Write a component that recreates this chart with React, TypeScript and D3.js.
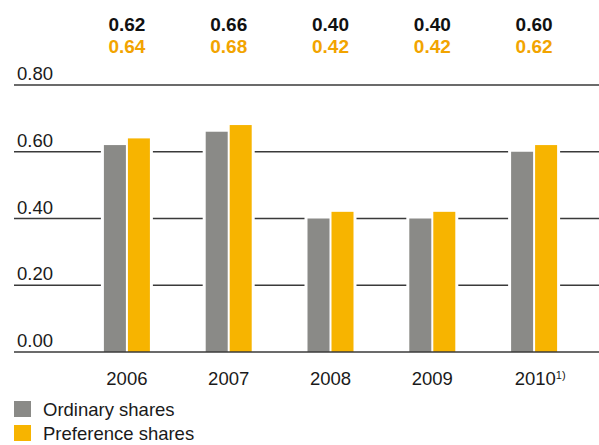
import { useRef, useEffect } from "react";
import * as d3 from "d3";

// chart data
const years = ["2006", "2007", "2008", "2009", "2010"];
const ordinary = [0.62, 0.66, 0.4, 0.4, 0.6];
const preference = [0.64, 0.68, 0.42, 0.42, 0.62];
const seriesNames = ["Ordinary shares", "Preference shares"];
const ticks = [0, 0.2, 0.4, 0.6, 0.8];

const GREY = "#8a8a87";
const YELLOW = "#f7b400";
const ORANGE_TEXT = "#f2a400";
const FONT = "'Liberation Sans', Arial, sans-serif";

const App = () => {
  const svgRef = useRef<SVGSVGElement | null>(null);

  useEffect(() => {
    if (!svgRef.current) return;
    const width = 599;
    const height = 445;

    const svg = d3.select(svgRef.current).attr("width", width).attr("height", height);
    svg.selectAll("*").remove();

    const y = d3.scaleLinear().domain([0, 0.8]).range([352, 85]);
    const x0 = d3.scaleBand<string>().domain(years).range([76, 585]);
    const x1 = d3
      .scaleBand<string>()
      .domain(seriesNames)
      .range([-23, 23])
      .paddingInner(1 / 12);

    const rows = years.map((yr, i) => ({ year: yr, values: [ordinary[i], preference[i]] }));
    const colors = [GREY, YELLOW];

    // gridlines (not the baseline)
    svg
      .append("g")
      .selectAll("line")
      .data(ticks.filter((t) => t > 0))
      .enter()
      .append("line")
      .attr("x1", 14)
      .attr("x2", width)
      .attr("y1", (d) => y(d))
      .attr("y2", (d) => y(d))
      .attr("stroke", "#3a3a3a")
      .attr("stroke-width", 1.3);

    // tick labels
    svg
      .append("g")
      .selectAll("text")
      .data(ticks)
      .enter()
      .append("text")
      .attr("x", 17)
      .attr("y", (d) => y(d) - 5)
      .text((d) => d.toFixed(2))
      .style("font-family", FONT)
      .style("font-size", "18.5px")
      .style("fill", "#1a1a1a");

    const groups = svg
      .append("g")
      .selectAll("g")
      .data(rows)
      .enter()
      .append("g")
      .attr("transform", (d) => `translate(${(x0(d.year) ?? 0) + x0.bandwidth() / 2},0)`);

    // white backing to break the gridlines around bars
    groups
      .append("rect")
      .attr("x", (d) => -23 - 3)
      .attr("width", 46 + 6)
      .attr("y", (d) => y(d3.max(d.values) ?? 0))
      .attr("height", (d) => y(0) - y(d3.max(d.values) ?? 0))
      .attr("fill", "#fff");

    groups
      .selectAll("rect.bar")
      .data((d) => d.values.map((v, i) => ({ v, name: seriesNames[i], c: colors[i] })))
      .enter()
      .append("rect")
      .attr("class", "bar")
      .attr("x", (d) => x1(d.name) ?? 0)
      .attr("width", x1.bandwidth())
      .attr("y", (d) => y(d.v))
      .attr("height", (d) => y(0) - y(d.v))
      .attr("fill", (d) => d.c);

    // value labels on top
    groups
      .append("text")
      .attr("text-anchor", "middle")
      .attr("y", 31)
      .text((d) => d.values[0].toFixed(2))
      .style("font-family", FONT)
      .style("font-weight", "bold")
      .style("font-size", "19px")
      .style("fill", "#111");

    groups
      .append("text")
      .attr("text-anchor", "middle")
      .attr("y", 53)
      .text((d) => d.values[1].toFixed(2))
      .style("font-family", FONT)
      .style("font-weight", "bold")
      .style("font-size", "19px")
      .style("fill", ORANGE_TEXT);

    // year labels
    const yearText = groups
      .append("text")
      .attr("text-anchor", "middle")
      .attr("y", 385)
      .style("font-family", FONT)
      .style("font-size", "18.5px")
      .style("fill", "#1a1a1a");
    yearText.append("tspan").text((d) => d.year);
    yearText
      .filter((d) => d.year === "2010")
      .append("tspan")
      .attr("dy", -6)
      .style("font-size", "11px")
      .text("1)");
    yearText.filter((d) => d.year === "2010").attr("x", 6);

    // baseline
    svg
      .append("line")
      .attr("x1", 14)
      .attr("x2", width)
      .attr("y1", y(0))
      .attr("y2", y(0))
      .attr("stroke", "#3a3a3a")
      .attr("stroke-width", 1.3);

    // legend
    const legend = svg
      .append("g")
      .selectAll("g")
      .data(seriesNames)
      .enter()
      .append("g")
      .attr("transform", (_, i) => `translate(14,${401 + i * 24})`);
    legend
      .append("rect")
      .attr("width", 17)
      .attr("height", 16)
      .attr("fill", (_, i) => colors[i]);
    legend
      .append("text")
      .attr("x", 29)
      .attr("y", 15)
      .text((d) => d)
      .style("font-family", FONT)
      .style("font-size", "18.5px")
      .style("fill", "#1a1a1a");
  }, []);

  return <svg ref={svgRef} style={{ position: "absolute", left: 0, top: 0 }}></svg>;
};

export default App;
